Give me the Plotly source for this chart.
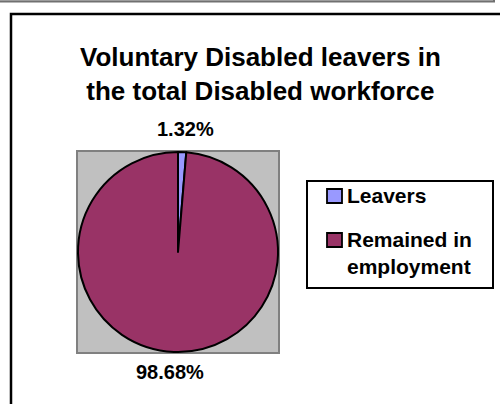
import plotly.graph_objects as go

# Share of voluntary leavers among the disabled workforce (percent)
labels = ["Leavers", "Remained in<br>employment"]
values = [1.32, 98.68]
colors = ["#9999FF", "#993366"]
title_lines = ["Voluntary Disabled leavers in", "the total Disabled workforce"]

W, H = 500, 404
FONT = "Liberation Sans, Arial, sans-serif"


def px_x(x):
    return x / W


def px_y(y):
    return 1 - y / H


fig = go.Figure()

fig.add_trace(go.Pie(
    labels=labels,
    values=values,
    sort=False,
    direction="clockwise",
    rotation=0,
    marker=dict(colors=colors, line=dict(color="black", width=2)),
    textinfo="none",
    hoverinfo="label+percent",
    showlegend=False,
    domain=dict(x=[px_x(78), px_x(278)], y=[px_y(352), px_y(152)]),
))

shapes = [
    # strip of the window above the chart
    dict(type="rect", xref="paper", yref="paper",
         x0=px_x(-10), x1=px_x(494), y0=px_y(1.5), y1=px_y(-20),
         fillcolor="#c8c8c8", line=dict(color="#707070", width=2), layer="below"),
    # chart frame
    dict(type="rect", xref="paper", yref="paper",
         x0=px_x(11), x1=px_x(530), y0=px_y(440), y1=px_y(14),
         fillcolor="white", line=dict(color="black", width=2.5), layer="below"),
    # grey plot area behind the pie
    dict(type="rect", xref="paper", yref="paper",
         x0=px_x(77), x1=px_x(279), y0=px_y(353), y1=px_y(151),
         fillcolor="#c0c0c0", line=dict(color="#808080", width=2), layer="below"),
    # legend box
    dict(type="rect", xref="paper", yref="paper",
         x0=px_x(307), x1=px_x(493), y0=px_y(288), y1=px_y(181),
         fillcolor="white", line=dict(color="black", width=2), layer="above"),
]

annotations = [
    dict(text="<b>" + "<br>".join(title_lines) + "</b>",
         xref="paper", yref="paper", x=px_x(260), y=px_y(40),
         xanchor="center", yanchor="top", showarrow=False,
         font=dict(family=FONT, size=26, color="black")),
    dict(text=f"<b>{values[0]:.2f}%</b>",
         xref="paper", yref="paper", x=px_x(185), y=px_y(142),
         xanchor="center", yanchor="bottom", showarrow=False,
         font=dict(family=FONT, size=20, color="black")),
    dict(text=f"<b>{values[1]:.2f}%</b>",
         xref="paper", yref="paper", x=px_x(170), y=px_y(359),
         xanchor="center", yanchor="top", showarrow=False,
         font=dict(family=FONT, size=20, color="black")),
]

# legend entries: swatch plus label, one row per slice
legend_rows = [196, 240]
for label, color, yc in zip(labels, colors, legend_rows):
    shapes.append(dict(
        type="rect", xref="paper", yref="paper",
        x0=px_x(327), x1=px_x(342), y0=px_y(yc + 7), y1=px_y(yc - 7),
        fillcolor=color, line=dict(color="black", width=1.8), layer="above"))
    annotations.append(dict(
        text=f"<b>{label}</b>", xref="paper", yref="paper",
        x=px_x(345), y=px_y(yc - 14), xanchor="left", yanchor="top",
        align="left", showarrow=False,
        font=dict(family=FONT, size=21, color="black")))

fig.update_layout(
    width=W, height=H,
    margin=dict(l=0, r=0, t=0, b=0),
    paper_bgcolor="white",
    plot_bgcolor="white",
    shapes=shapes,
    annotations=annotations,
    showlegend=False,
)

fig.write_html("out.html")
